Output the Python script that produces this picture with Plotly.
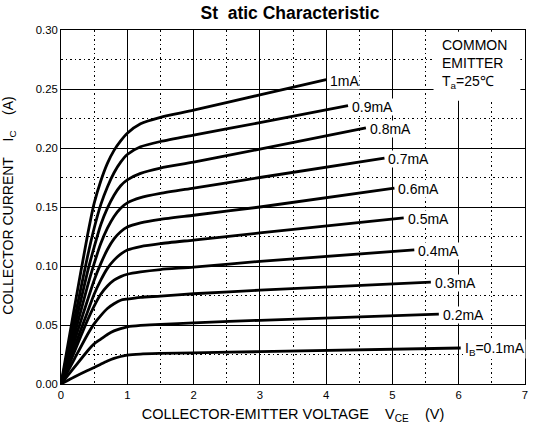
import plotly.graph_objects as go

# ---- data ----
ib_labels = ["1mA", "0.9mA", "0.8mA", "0.7mA", "0.6mA", "0.5mA", "0.4mA", "0.3mA", "0.2mA", "I<sub>B</sub>=0.1mA"]

vce_1_0 = [0, 0.2, 0.4, 0.5, 0.6, 0.7, 0.8, 0.9, 1.0, 1.2, 1.5, 2, 3, 4.0]
ic_1_0 = [0, 0.064, 0.126, 0.153, 0.172, 0.187, 0.198, 0.206, 0.2125, 0.2205, 0.226, 0.232, 0.245, 0.258]

vce_0_9 = [0, 0.2, 0.4, 0.5, 0.6, 0.7, 0.8, 0.9, 1.0, 1.2, 1.5, 2, 3, 4.33]
ic_0_9 = [0, 0.054, 0.108, 0.132, 0.152, 0.167, 0.179, 0.188, 0.1945, 0.201, 0.2055, 0.211, 0.2215, 0.236]

vce_0_8 = [0, 0.2, 0.4, 0.5, 0.6, 0.7, 0.8, 0.9, 1.0, 1.2, 1.5, 2, 3, 4.6]
ic_0_8 = [0, 0.047, 0.095, 0.116, 0.135, 0.149, 0.160, 0.168, 0.173, 0.1785, 0.183, 0.188, 0.199, 0.217]

vce_0_7 = [0, 0.2, 0.4, 0.5, 0.6, 0.7, 0.8, 0.9, 1.0, 1.2, 1.5, 2, 3, 4.88]
ic_0_7 = [0, 0.041, 0.083, 0.102, 0.119, 0.132, 0.142, 0.149, 0.1535, 0.158, 0.1615, 0.166, 0.175, 0.1915]

vce_0_6 = [0, 0.2, 0.4, 0.5, 0.6, 0.7, 0.8, 0.9, 1.0, 1.2, 1.5, 2, 3, 5.03]
ic_0_6 = [0, 0.036, 0.071, 0.088, 0.102, 0.114, 0.123, 0.129, 0.133, 0.1365, 0.1395, 0.143, 0.150, 0.166]

vce_0_5 = [0, 0.2, 0.4, 0.5, 0.6, 0.7, 0.8, 0.9, 1.0, 1.2, 1.5, 2, 3, 5.17]
ic_0_5 = [0, 0.031, 0.061, 0.076, 0.088, 0.098, 0.105, 0.110, 0.1135, 0.1165, 0.119, 0.122, 0.128, 0.1407]

vce_0_4 = [0, 0.2, 0.4, 0.5, 0.6, 0.7, 0.8, 0.9, 1.0, 1.2, 1.5, 2, 3, 5.33]
ic_0_4 = [0, 0.027, 0.054, 0.066, 0.076, 0.083, 0.088, 0.091, 0.093, 0.095, 0.097, 0.099, 0.104, 0.1136]

vce_0_3 = [0, 0.2, 0.4, 0.5, 0.6, 0.7, 0.8, 0.9, 1.0, 1.2, 1.5, 2, 3, 5.58]
ic_0_3 = [0, 0.021, 0.042, 0.051, 0.058, 0.064, 0.068, 0.071, 0.072, 0.0735, 0.0745, 0.0765, 0.0795, 0.0864]

vce_0_2 = [0, 0.2, 0.4, 0.5, 0.6, 0.7, 0.8, 0.9, 1.0, 1.2, 1.5, 2, 3, 5.7]
ic_0_2 = [0, 0.014, 0.028, 0.034, 0.038, 0.042, 0.045, 0.047, 0.0485, 0.0497, 0.0505, 0.0518, 0.054, 0.0593]

vce_0_1 = [0, 0.2, 0.4, 0.5, 0.6, 0.7, 0.8, 0.9, 1.0, 1.2, 1.5, 2, 3, 6.03]
ic_0_1 = [0, 0.006, 0.0115, 0.014, 0.0168, 0.0195, 0.0217, 0.0233, 0.0245, 0.0254, 0.0259, 0.0264, 0.0274, 0.0305]

x_series = [vce_1_0, vce_0_9, vce_0_8, vce_0_7, vce_0_6, vce_0_5, vce_0_4, vce_0_3, vce_0_2, vce_0_1]
y_series = [ic_1_0, ic_0_9, ic_0_8, ic_0_7, ic_0_6, ic_0_5, ic_0_4, ic_0_3, ic_0_2, ic_0_1]

x_ticks = [0, 1, 2, 3, 4, 5, 6, 7]
y_ticks = [0.00, 0.05, 0.10, 0.15, 0.20, 0.25, 0.30]
y_tick_text = ["0.00", "0.05", "0.10", "0.15", "0.20", "0.25", "0.30"]

FONT = "Arial, Liberation Sans, sans-serif"
DOT = "1.5px,3px"
SP = "\u00a0"

fig = go.Figure()
for xs, ys in zip(x_series, y_series):
    fig.add_trace(go.Scatter(x=xs, y=ys, mode="lines",
                             line=dict(color="black", width=2.8, shape="spline", smoothing=0.6),
                             showlegend=False, hoverinfo="skip"))

# curve labels
for lab, xs, ys in zip(ib_labels, x_series, y_series):
    fig.add_annotation(x=xs[-1], y=ys[-1], text=lab, showarrow=False,
                       xanchor="left", yanchor="middle", xshift=3, yshift=-1,
                       bgcolor="white", borderpad=0,
                       font=dict(family=FONT, size=14, color="black"))

# condition box (white area hiding grid)
fig.add_shape(type="rect", x0=5.62, x1=6.93, y0=0.240, y1=0.2985,
              fillcolor="white", line=dict(width=0), layer="between")
fig.add_annotation(x=5.72, y=0.2955, text="COMMON<br>EMITTER<br>T<sub>a</sub>=25\u2103",
                   showarrow=False, xanchor="left", yanchor="top", align="left",
                   font=dict(family=FONT, size=14, color="black"))

# y axis title placed manually
fig.add_annotation(xref="paper", yref="paper", x=-0.111, y=0.505, xanchor="center", yanchor="middle",
                   text="COLLECTOR CURRENT" + SP * 4 + "I<sub>C</sub>" + SP * 4 + "(A)", textangle=-90,
                   showarrow=False, font=dict(family=FONT, size=14, color="black"))

fig.update_layout(
    width=533, height=429,
    margin=dict(l=61, r=8, t=30, b=45, autoexpand=False),
    paper_bgcolor="white", plot_bgcolor="white",
    font=dict(family=FONT, size=11, color="black"),
    title=dict(text="<b>St" + SP * 2 + "atic Characteristic</b>", x=0.544, xanchor="center",
               y=0.971, yanchor="middle", font=dict(family=FONT, size=17.5, color="black")),
    showlegend=False,
)
fig.update_xaxes(range=[0, 7], tickvals=x_ticks, ticks="", showline=True, linecolor="black",
                 linewidth=1, mirror=True, showgrid=True, gridcolor="black", gridwidth=1,
                 zeroline=False, tickfont=dict(size=11.3), automargin=False,
                 minor=dict(dtick=0.5, showgrid=True, gridcolor="black", griddash=DOT, gridwidth=1),
                 title=dict(text="COLLECTOR-EMITTER VOLTAGE" + SP * 4 + "V<sub>CE</sub>" + SP * 4 + "(V)",
                            font=dict(size=14.5), standoff=9))
fig.update_yaxes(range=[0, 0.30], tickvals=y_ticks, ticktext=y_tick_text, ticks="", showline=True,
                 linecolor="black", linewidth=1, mirror=True, showgrid=True, gridcolor="black",
                 gridwidth=1, zeroline=False, tickfont=dict(size=11.3), automargin=False,
                 minor=dict(dtick=0.025, showgrid=True, gridcolor="black", griddash=DOT, gridwidth=1))

# remove the default 8px page margin so the figure fills the window exactly
fig.write_html("out.html", config={"displayModeBar": False},
               post_script="document.body.style.margin='0px';")
